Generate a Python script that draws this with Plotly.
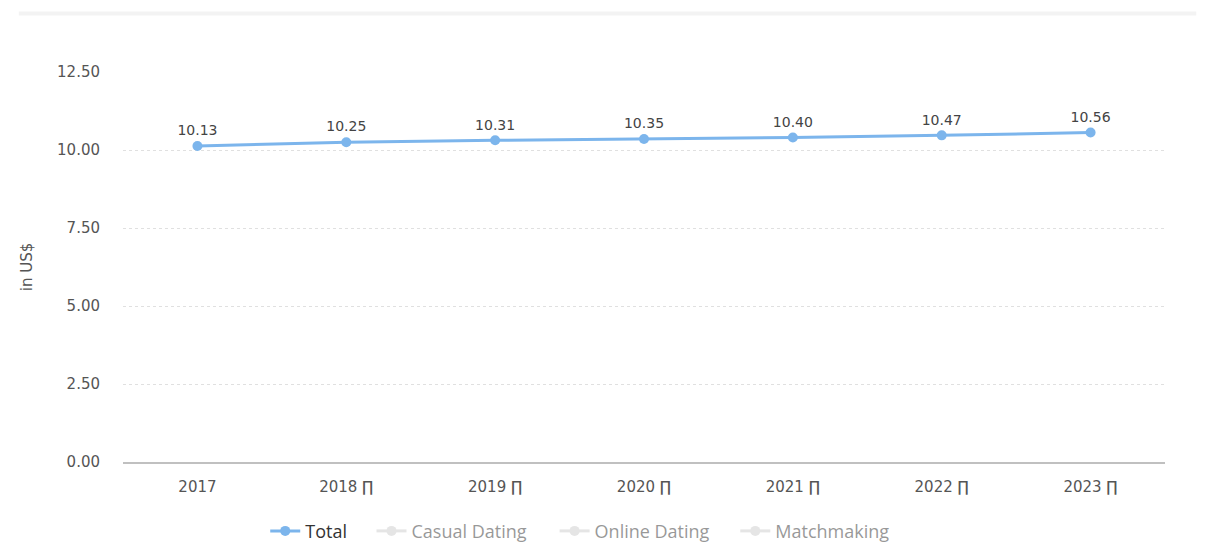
import plotly.graph_objects as go

years = ["2017", "2018", "2019", "2020", "2021", "2022", "2023"]
tick_labels = ["2017", "2018 ∏", "2019 ∏", "2020 ∏", "2021 ∏", "2022 ∏", "2023 ∏"]
total = [10.13, 10.25, 10.31, 10.35, 10.40, 10.47, 10.56]
hidden_series = ["Casual Dating", "Online Dating", "Matchmaking"]
y_ticks = [0, 2.5, 5, 7.5, 10, 12.5]

legend_x = [0.1365, 0.2385, 0.4142, 0.5876]

fig = go.Figure()
fig.add_trace(go.Scatter(
    x=years, y=total, name="Total", mode="lines+markers+text",
    line=dict(color="#7cb5ec", width=3),
    marker=dict(color="#7cb5ec", size=10),
    text=[f"{v:.2f}" for v in total], textposition="top center",
    textfont=dict(family="DejaVu Sans", size=14, color="#444444"),
    cliponaxis=False, legend="legend",
))
for i, name in enumerate(hidden_series):
    fig.add_trace(go.Scatter(
        x=years, y=[None] * len(years), name=name, mode="lines+markers",
        line=dict(color="#cccccc", width=3), marker=dict(color="#cccccc", size=10),
        visible="legendonly", legend=f"legend{i + 2}",
    ))

legend_common = dict(orientation="h", xanchor="left", y=-0.13, yanchor="top",
                     font=dict(family="Open Sans", size=18, color="#333333"),
                     itemclick=False, itemdoubleclick=False, itemwidth=30,
                     bgcolor="rgba(0,0,0,0)")
layout_legends = {}
for i, lx in enumerate(legend_x):
    key = "legend" if i == 0 else f"legend{i + 1}"
    layout_legends[key] = dict(x=lx, **legend_common)

fig.update_layout(
    width=1209, height=547,
    margin=dict(l=123, r=44, t=72, b=85, autoexpand=False),
    paper_bgcolor="white", plot_bgcolor="white",
    showlegend=True,
    font=dict(family="DejaVu Sans", color="#555555"),
    **layout_legends,
)
fig.update_xaxes(
    type="category", tickvals=years, ticktext=tick_labels,
    range=[-0.5, 6.5], showgrid=False, showline=True, linecolor="#c0c0c0", linewidth=2,
    ticks="", ticklabelstandoff=10,
    tickfont=dict(family="DejaVu Sans", size=15, color="#555555"),
)
fig.update_yaxes(
    range=[0, 12.5], tickvals=y_ticks, tickformat=".2f",
    showgrid=True, gridcolor="#e0e0e0", griddash="dot", gridwidth=1,
    zeroline=False, showline=False, ticks="", ticklabelstandoff=22,
    tickfont=dict(family="DejaVu Sans", size=15, color="#555555"),
    title=dict(text="in US$", font=dict(family="DejaVu Sans", size=15, color="#555555"), standoff=20),
)
fig.add_shape(type="line", xref="paper", yref="paper", x0=-0.1, x1=1.03, y0=1.15, y1=1.15,
              line=dict(color="#f3f3f3", width=4))

fig.write_html("out.html")
